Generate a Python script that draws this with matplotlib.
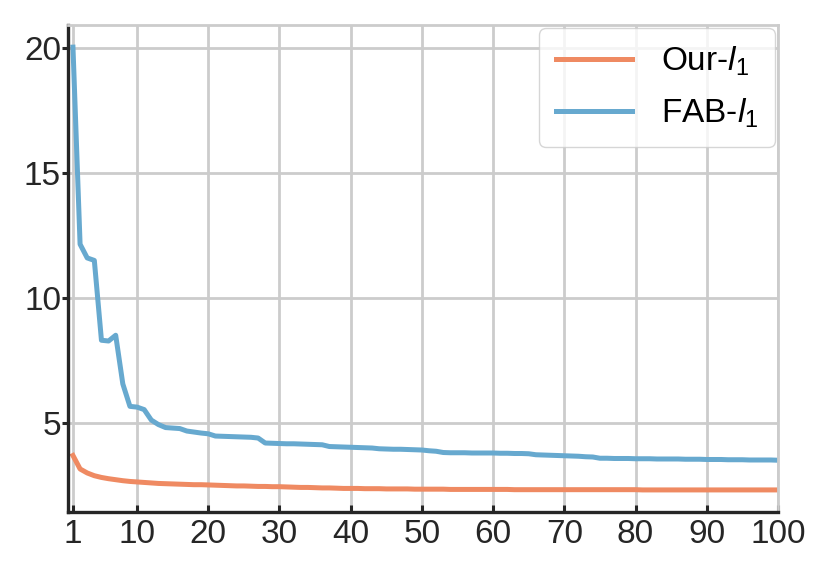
import matplotlib
matplotlib.use("Agg")
import matplotlib.pyplot as plt
import numpy as np

# iteration index 1..100
steps = list(range(1, 101))

our_l1 = [
    3.68, 3.14, 2.98, 2.87, 2.80, 2.75, 2.71, 2.67, 2.64, 2.62,
    2.60, 2.58, 2.56, 2.55, 2.54, 2.53, 2.52, 2.51, 2.51, 2.50,
    2.49, 2.48, 2.47, 2.46, 2.46, 2.45, 2.44, 2.44, 2.43, 2.43,
    2.42, 2.41, 2.40, 2.40, 2.39, 2.38, 2.38, 2.37, 2.36, 2.36,
    2.36, 2.35, 2.35, 2.35, 2.34, 2.34, 2.34, 2.34, 2.33, 2.33,
    2.33, 2.33, 2.33, 2.32, 2.32, 2.32, 2.32, 2.32, 2.32, 2.32,
    2.32, 2.32, 2.31, 2.31, 2.31, 2.31, 2.31, 2.31, 2.31, 2.31,
    2.31, 2.31, 2.31, 2.31, 2.31, 2.31, 2.31, 2.31, 2.31, 2.31,
    2.30, 2.30, 2.30, 2.30, 2.30, 2.30, 2.30, 2.30, 2.30, 2.30,
    2.30, 2.30, 2.30, 2.30, 2.30, 2.30, 2.30, 2.30, 2.30, 2.30,
]

fab_l1 = [
    20.05, 12.15, 11.60, 11.50, 8.30, 8.27, 8.50, 6.55, 5.65, 5.62,
    5.52, 5.10, 4.92, 4.80, 4.78, 4.76, 4.66, 4.62, 4.58, 4.55,
    4.46, 4.45, 4.44, 4.43, 4.42, 4.41, 4.38, 4.18, 4.17, 4.16,
    4.15, 4.15, 4.14, 4.13, 4.12, 4.11, 4.04, 4.03, 4.02, 4.01,
    4.00, 3.99, 3.98, 3.95, 3.94, 3.93, 3.93, 3.92, 3.91, 3.90,
    3.87, 3.85, 3.80, 3.79, 3.79, 3.79, 3.78, 3.78, 3.78, 3.78,
    3.77, 3.77, 3.76, 3.76, 3.75, 3.71, 3.70, 3.69, 3.68, 3.67,
    3.66, 3.65, 3.63, 3.62, 3.57, 3.57, 3.56, 3.56, 3.56, 3.55,
    3.55, 3.55, 3.54, 3.54, 3.54, 3.54, 3.53, 3.53, 3.53, 3.52,
    3.52, 3.52, 3.51, 3.51, 3.51, 3.50, 3.50, 3.50, 3.50, 3.49,
]

xticks = [1, 10, 20, 30, 40, 50, 60, 70, 80, 90, 100]
yticks = [5, 10, 15, 20]

plt.rcParams["font.family"] = ["Liberation Sans", "DejaVu Sans"]
plt.rcParams["mathtext.fontset"] = "custom"
plt.rcParams["mathtext.rm"] = "Liberation Sans"
plt.rcParams["mathtext.it"] = "Liberation Sans:italic"

dark = "#262626"
light = "#cccccc"

fig = plt.figure(figsize=(8.31, 5.76), dpi=100)
ax = fig.add_axes([0.0818, 0.111, 0.8544, 0.8456])

ax.plot(steps, our_l1, color="#ef8a62", linewidth=3.6, label=r"Our-$l_1$")
ax.plot(steps, fab_l1, color="#67a9cf", linewidth=3.6, label=r"FAB-$l_1$")

ax.set_xlim(0.3, 100)
ax.set_xticks(xticks)
ax.set_yticks(yticks)

ax.grid(True, color=light, linewidth=2.0)
ax.set_axisbelow(True)

for side in ["left", "bottom"]:
    ax.spines[side].set_color(dark)
    ax.spines[side].set_linewidth(2.4)
for side in ["top", "right"]:
    ax.spines[side].set_color(light)
    ax.spines[side].set_linewidth(2.0)

ax.tick_params(axis="x", direction="in", length=5, width=2.2, color=dark,
               labelsize=24, labelcolor=dark, pad=5)
ax.tick_params(axis="y", direction="out", length=4, width=2.2, color=dark,
               labelsize=24, labelcolor=dark, pad=1)

leg = ax.legend(loc="upper right", fontsize=24, frameon=True, fancybox=True,
                framealpha=0.8, edgecolor=light, borderaxespad=0.1,
                handlelength=2.3, handletextpad=0.85, borderpad=0.5,
                labelspacing=0.55)
leg.get_frame().set_linewidth(1.0)
for line in leg.get_lines():
    line.set_linewidth(3.6)

fig.savefig("out.png", dpi=100)
